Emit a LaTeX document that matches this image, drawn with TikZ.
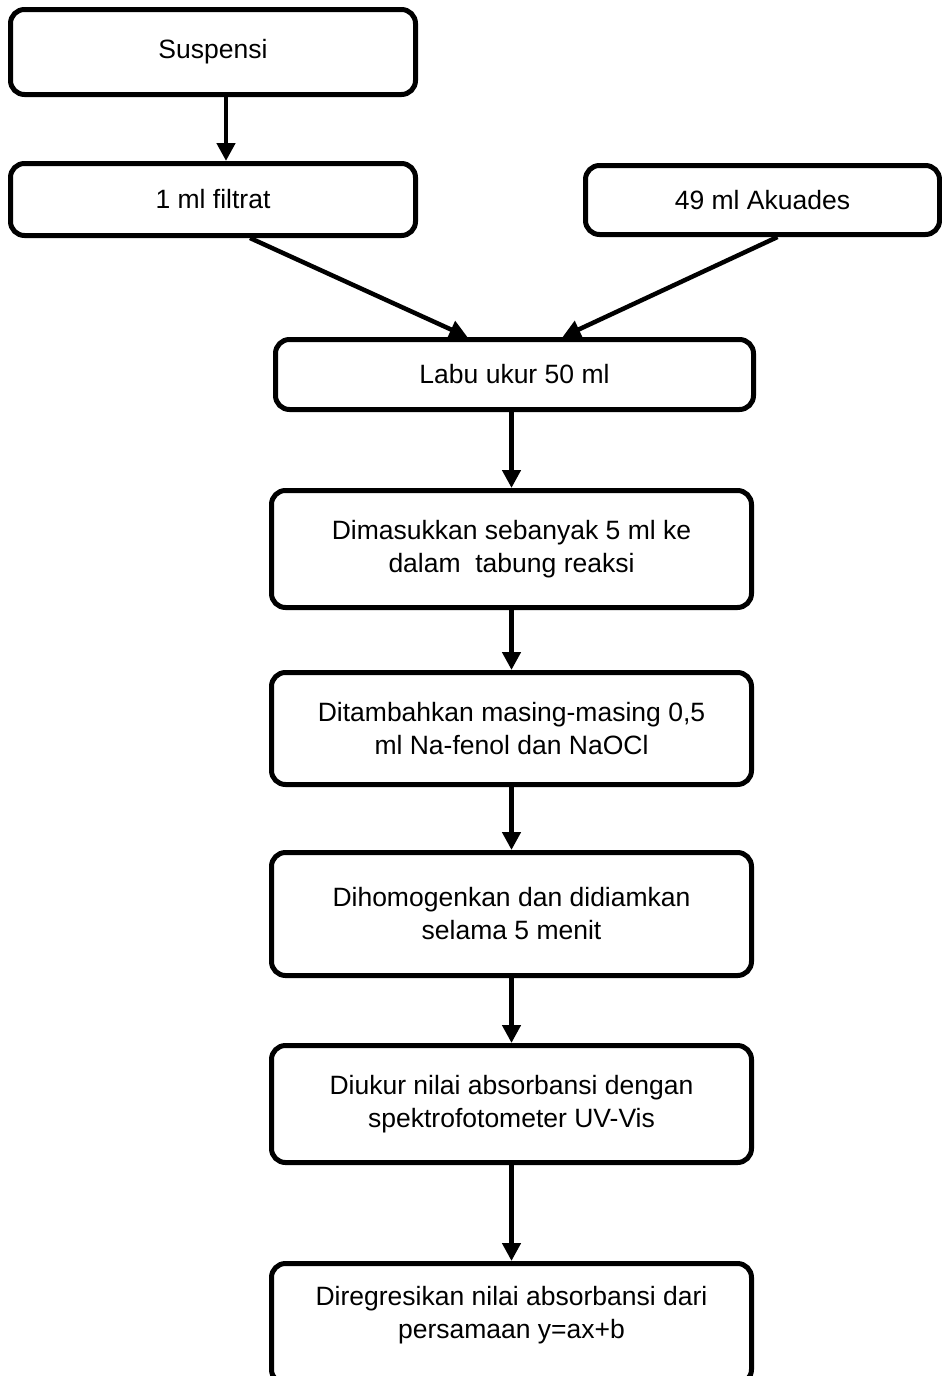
\documentclass[tikz,border=0pt]{standalone}
\usepackage{fontspec}
\setmainfont{Liberation Sans}
\usetikzlibrary{arrows.meta}

\begin{document}
\begin{tikzpicture}[x=1pt,y=-1pt,
    stepbox/.style={draw,line width=5pt,rounded corners=14pt,inner sep=0pt,
      align=center,font=\fontsize{26.5}{33}\selectfont},
    flow/.style={-{Triangle[length=18pt,width=18pt]},line width=4.5pt}]
  \useasboundingbox (0,0) rectangle (942,1376);
  \clip (0,0) rectangle (942,1376);

  % top row
  \node[stepbox,minimum width=405,minimum height=85] (susp) at (213,52)
    {Suspensi};
  \node[stepbox,minimum width=405,minimum height=72] (filt) at (213,199.5)
    {1 ml filtrat};
  \node[stepbox,minimum width=354,minimum height=69] (akua) at (762.5,200)
    {49 ml Akuades};
  \node[stepbox,minimum width=478,minimum height=70] (labu) at (514.5,374.5)
    {Labu ukur 50 ml};

  % main column
  \node[stepbox,minimum width=480,minimum height=117] (masuk) at (511.5,549)
    {Dimasukkan sebanyak 5 ml ke\\dalam~~tabung reaksi};
  \node[stepbox,minimum width=480,minimum height=112] (tambah) at (511.5,728.5)
    {Ditambahkan masing-masing 0,5\\ml Na-fenol dan NaOCl};
  \node[stepbox,minimum width=480,minimum height=123] (homogen) at (511.5,914)
    {Dihomogenkan dan didiamkan\\selama 5 menit};
  \node[stepbox,minimum width=480,minimum height=117] (ukur) at (511.5,1104)
    {Diukur nilai absorbansi dengan\\spektrofotometer UV-Vis};
  \node[stepbox,minimum width=480,minimum height=120,text depth=22pt] (regresi)
    at (511.5,1323.5)
    {Diregresikan nilai absorbansi dari\\persamaan y=ax+b};

  \draw[flow] ([xshift=13]susp.south) -- ([xshift=13]filt.north);
  \draw[flow] ([xshift=37]filt.south) -- ([xshift=-47]labu.north);
  \draw[flow] ([xshift=15]akua.south) -- ([xshift=48]labu.north);
  \draw[flow] (masuk.north |- labu.south) -- (masuk.north);
  \draw[flow] (masuk) -- (tambah);
  \draw[flow] (tambah) -- (homogen);
  \draw[flow] (homogen) -- (ukur);
  \draw[flow] (ukur) -- (regresi);
\end{tikzpicture}
\end{document}
